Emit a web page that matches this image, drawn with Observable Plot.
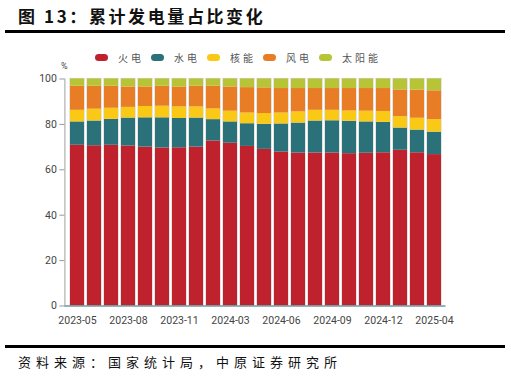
<!DOCTYPE html>
<html>
<head>
<meta charset="utf-8">
<script src="https://cdn.jsdelivr.net/npm/d3@7"></script>
<script src="https://cdn.jsdelivr.net/npm/@observablehq/plot@0.6"></script>
<style>
  html, body { margin: 0; padding: 0; background: #fff; }
  #wrap { position: relative; width: 511px; height: 378px; overflow: hidden; font-family: "Noto Sans CJK SC", sans-serif; }
  #title { position: absolute; left: 18px; top: 3px; font-size: 17px; font-weight: bold; letter-spacing: 2.6px; color: #111; white-space: nowrap; }
  .hr { position: absolute; left: 5px; width: 500px; background: #000; }
  #legend { position: absolute; top: 50px; left: 0; height: 14px; width: 511px; }
  .li { position: absolute; top: 0; display: flex; align-items: center; font-size: 10px; color: #555; letter-spacing: 3px; white-space: nowrap; }
  .sw { width: 13px; height: 7px; border-radius: 3.5px; margin-right: 10px; }
  #unit { position: absolute; left: 61px; top: 61px; font-size: 9px; color: #444; font-family: Roboto, sans-serif; }
  #plot { position: absolute; left: 0; top: 62px; }
  #source { position: absolute; left: 18px; top: 352px; font-size: 13px; letter-spacing: 5px; color: #111; white-space: nowrap; }
</style>
</head>
<body>
<div id="wrap">
  <div id="title">图 13：累计发电量占比变化</div>
  <div class="hr" style="top:30px;height:2.5px"></div>
  <div id="legend"></div>
  <div id="unit">%</div>
  <div id="plot"></div>
  <div class="hr" style="top:345px;height:2.5px"></div>
  <div id="source">资料来源：国家统计局，中原证券研究所</div>
</div>
<script>
const months = ["2023-05","2023-06","2023-07","2023-08","2023-09","2023-10","2023-11","2023-12",
  "2024-02","2024-03","2024-04","2024-05","2024-06","2024-07","2024-08","2024-09","2024-10","2024-11","2024-12",
  "2025-02","2025-03","2025-04"];
const seriesNames = ["火电","水电","核能","风电","太阳能"];
const colors = ["#C0222D","#2A717A","#F9C916","#E87D25","#B6C436"];
const thermal = [70.8,70.6,70.8,70.5,70.0,69.6,69.7,70.0,72.7,71.7,70.3,69.0,67.8,67.4,67.4,67.4,67.1,67.3,67.5,68.6,67.5,66.7];
const hydro   = [10.3,10.9,11.4,12.3,12.9,13.3,12.9,12.8, 9.4, 9.4,10.0,11.0,12.4,13.2,14.1,14.2,14.3,13.8,13.4, 9.8,10.0, 9.9];
const nuclear = [ 5.1, 5.2, 4.9, 4.7, 5.0, 5.1, 5.1, 4.9, 4.7, 4.7, 4.7, 4.8, 4.8, 4.9, 4.7, 4.6, 4.5, 4.7, 4.8, 5.0, 5.2, 5.5];
const wind    = [10.6,10.1, 9.7, 9.0, 8.6, 8.8, 8.8, 9.1,10.0,10.7,11.2,11.3,10.8,10.3, 9.6, 9.6, 9.9,10.0,10.1,11.8,12.4,12.7];
const solar   = [ 3.2, 3.2, 3.2, 3.5, 3.5, 3.2, 3.5, 3.2, 3.2, 3.5, 3.8, 3.9, 4.2, 4.2, 4.2, 4.2, 4.2, 4.2, 4.2, 4.8, 4.9, 5.2];
const yTicks = [0,20,40,60,80,100];
const xTickLabels = ["2023-05","2023-08","2023-11","2024-03","2024-06","2024-09","2024-12","2025-04"];

const seriesValues = [thermal, hydro, nuclear, wind, solar];
const rows = [];
months.forEach((m, i) => {
  seriesNames.forEach((s, j) => rows.push({month: m, series: s, value: seriesValues[j][i]}));
});
const totals = months.map((m, i) => ({month: m, total: seriesValues.reduce((a, arr) => a + arr[i], 0)}));

// legend
const legendX = [95, 151, 207, 263, 319];
const leg = document.getElementById("legend");
seriesNames.forEach((s, j) => {
  const d = document.createElement("div");
  d.className = "li";
  d.style.left = legendX[j] + "px";
  d.innerHTML = `<span class="sw" style="background:${colors[j]}"></span><span>${s}</span>`;
  leg.appendChild(d);
});

const chart = Plot.plot({
  width: 511,
  height: 275,
  marginLeft: 64.4,
  marginRight: 65.5,
  marginTop: 16.5,
  marginBottom: 31.5,
  style: {fontFamily: "Roboto, sans-serif", fontSize: "10.5px", color: "#444", background: "transparent"},
  x: {type: "band", domain: months, paddingInner: 0.2, paddingOuter: 0.05, label: null},
  y: {domain: [0, 100], label: null},
  color: {domain: seriesNames, range: colors},
  marks: [
    Plot.barY(totals, {x: "month", y: "total", fill: "none", stroke: "#d4d4d4", strokeWidth: 1.2}),
    Plot.barY(rows, {x: "month", y: "value", fill: "series", order: seriesNames}),
    Plot.frame({anchor: "left", stroke: "#b0b0b0", strokeWidth: 1.2}),
    Plot.ruleY([0], {stroke: "#6a9ea4", strokeWidth: 1.5}),
    Plot.axisY({ticks: yTicks, tickSize: 5, tickPadding: 3, stroke: "#999", label: null}),
    Plot.axisX({ticks: xTickLabels, tickSize: 0, tickPadding: 11, label: null})
  ]
});
document.getElementById("plot").appendChild(chart);
</script>
</body>
</html>
